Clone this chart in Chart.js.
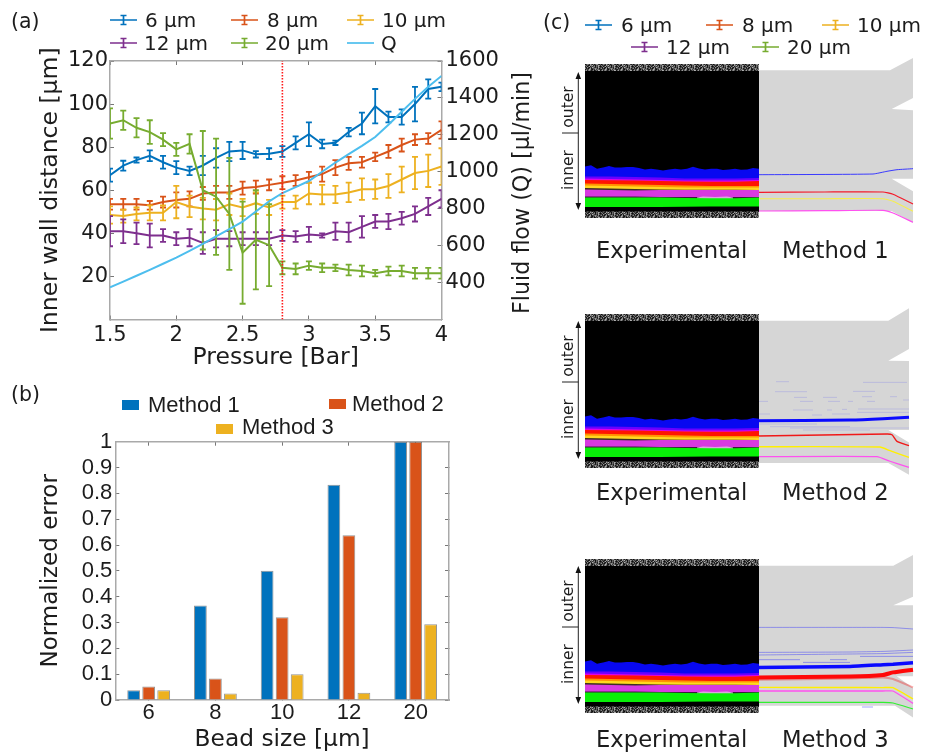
<!DOCTYPE html>
<html>
<head>
<meta charset="utf-8">
<script src="https://cdn.jsdelivr.net/npm/chart.js@4"></script>
<style>
html, body { margin: 0; padding: 0; background: #fff; }
#page { position: relative; width: 934px; height: 754px; overflow: hidden; filter: blur(0.4px); }
canvas { position: absolute; }
.lbl { position: absolute; white-space: nowrap; transform: translateY(-50%); color: #1c1c1c; font-family: "DejaVu Sans", sans-serif; }
.rot { transform: translate(-50%, -50%) rotate(-90deg); }
svg { position: absolute; overflow: visible; }
</style>
</head>
<body>
<div id="page">
  <canvas id="chartA" style="left:0;top:0"></canvas>
  <canvas id="chartB" style="left:0;top:375px"></canvas>
  <canvas id="inset1" style="left:585px;top:52px"></canvas>
  <canvas id="inset2" style="left:585px;top:302px"></canvas>
  <canvas id="inset3" style="left:585px;top:547px"></canvas>
</div>
<script>
// (a) wall distance vs pressure
const pressure = [1.5,1.6,1.7,1.8,1.9,2,2.1,2.2,2.3,2.4,2.5,2.6,2.7,2.8,2.9,3,3.1,3.2,3.3,3.4,3.5,3.6,3.7,3.8,3.9,4];
const bead6 = [67,71.4,74,76,73,70.5,69,71.5,75,78,78.5,76.7,77,78,82,86,81.5,82,87,91,99,94,94,100,107,108];
const bead6Err = [3,2.3,1.2,2.5,3,3,2,4.5,4.5,4.5,4,1.5,2.5,2.5,3,5.5,2,1,2,5,8,2.5,3.5,8,4.5,2];
const bead8 = [53.5,53.5,53.5,53,54.5,55.5,56,58.5,59,59,61,61.5,62.5,63.5,64.5,66,67.5,70.5,72.5,73,75.5,78,81,83.5,84,88];
const bead8Err = [2.5,2.5,2.5,2,2.5,3.5,3.5,3,3,3,3,3,2.5,3,2.5,2.5,3.5,3.5,3,2.5,2,3,3,2.5,2.5,4];
const bead10 = [48.5,48,49,49.5,49.5,54.5,52.5,51.5,51,53.5,52,54,52,54.5,54.5,58.5,58,58,59,60.5,60.5,62,65,68,69,71];
const bead10Err = [4,3,3,3.5,3.5,7.5,5,5,5,5,4,5,3.5,3,3,5,4.5,4,4.5,5,4.5,5.5,6,7.5,7.5,8.5];
const bead12 = [41,41,40,39,39,37.5,38,35.5,37.5,37.5,37.5,37.5,37.5,39,38.5,39.5,39,41,40.5,43,45.5,45.5,47,49,52.5,56];
const bead12Err = [7,5.5,5,5.5,3,3,4,5,4,3.5,3,3,3,2.5,2.5,3.5,1,4,4.5,5,3,3.5,3,3.5,4,4];
const bead20 = [91,92.5,89,87,83.5,79,81.5,60,57,49,31,37,34.5,24,23.5,25,24,24,23,22.5,21.5,22.5,22.5,21.5,21.5,21.5];
const bead20Err = [7,4.5,4.5,5.5,3,3,4.5,27.5,27,26,23.7,23,19,3,2.5,2,2,1.5,2.5,2.5,1.5,2,2.5,2.5,2.5,2.5];
const flowQ = [374,405,437,469,502,535,572,610,650,690,730,785,840,885,917,950,1000,1050,1096,1140,1188,1255,1325,1395,1461,1519];
const criticalPressure = 2.8;

// (b) normalized error
const beadSizes = ['6','8','10','12','20'];
const method1Error = [0.038,0.366,0.5,0.833,1];
const method2Error = [0.052,0.083,0.32,0.638,1];
const method3Error = [0.038,0.025,0.1,0.028,0.293];

// (c) experimental band edges, measured up from the lower edge of the image
const expWidth = 174, expHeight = 154;
const blueEdgeX = [0,6,12,18,24,30,36,42,48,54,60,66,72,78,84,90,96,102,108,114,120,126,132,138,144,150,156,162,168,174];
const blueEdge = [51.6,52.8,49.3,50.6,52,50.6,50.6,51,51,50,48.6,49.3,48.6,47.6,48.6,49.3,48.6,49.3,51.3,49.6,48.6,49.3,49.3,48,48.6,49.3,48.3,48.6,50,49.3];
const bandX = [0,25,50,75,100,125,150,174];
const violetEdge = [41.5,41.5,41,40.5,39.5,39.5,39.5,40];
const magentaEdge = [39.5,39,38.5,38,37.5,37.5,37.5,38];
const redEdge = [38,37.8,37.4,37,36.5,36.3,36.3,37];
const orangeEdge = [34.5,34,33.5,33,32.5,32,32,32];
const yellowEdge = [32.5,32,31.5,31,30.5,30.5,30.5,30.5];
const darkEdge = [30,29.5,29,28.5,28.3,28.2,28.2,28];
const purpleEdge = [28.5,28,27.5,28,28,28,28,28];
const gapEdge = [21.6,21.5,21.5,21,21,21,21,21];
const paleX = [112,118,130,142,148];
const paleEdge = [20.5,21.5,21,21.5,20.5];
const greenEdge = [20.5,20.5,20.5,20.5,20,19.7,19.7,20.5];
const blackEdge = [11,11,11,11,11.3,11.5,11.5,11.6];
const noiseEdge = [6.6,6.6,6.6,6.6,6.6,6.6,6.6,6.6];

// channel outlines of the three simulations
const channel1X = [174,305,328,328,306.7,328,328,306.7,328,328,306.7,174];
const channel1Y = [147.7,147.7,160,120,109,107.7,39.3,39.3,26.7,-5,7,7];
const channel2X = [174,303.3,324,324,303.3,324,324,303.3,324,324,303.3,174];
const channel2Y = [147.3,147.3,159.7,119,107.3,107,38,38,25.6,-6.7,5,5];
const channel3X = [174,308.3,328,328,308.3,328,328,311.7,328,328,310,174];
const channel3Y = [147.3,147.3,158,116.3,107.7,107.7,36.7,36.7,25,-4.4,7.3,7.3];

// simulated streak lines, Method 1
const m1BlueX = [174,288,302,312,328];
const m1Blue = [43.3,44,46.7,48.3,49.3];
const m1TailX = [174,240,298,308,328];
const m1Red = [25.7,26,26,23.7,14];
const m1Yellow = [19.3,19.3,19.3,16.7,6.7];
const m1Magenta = [7,7.3,7.7,5,-4.3];

// Method 2
const m2BlueX = [173,265,298,324];
const m2Blue = [47.3,47.9,49.2,50.8];
const m2RedX = [173,302,307,312,324];
const m2Red = [32,34,33.3,26.6,22.3];
const m2YellowX = [173,295,305,324];
const m2Yellow = [21.3,21,17.3,10.6];
const m2MagentaX = [173,292,305,324];
const m2Magenta = [11.3,11.3,6.7,0.6];
const m2FaintStart = [191,278,190,268,209,238,277,305,173,215,243,263,282,318,208,242,257,273,173,227,247,272,173,185,205,218];
const m2FaintEnd = [204,322,222,290,222,252,287,312,183,228,255,268,290,324,228,247,262,324,185,237,265,324,232,265,324,285];
const m2FaintY = [86.3,85.6,76.3,76.6,70.6,70.6,71.3,71.3,66.6,66.6,66.6,66.6,66.6,68,58,58,58.6,59,54,53,54,55.6,44,41.3,40,38];

// Method 3
const m3LineX = [173,265,298,308,328];
const m3BlueA = [85.6,85.6,85.6,85.4,84];
const m3BlueB = [60.6,61,61.6,62,63];
const m3BlueC = [58,59,59.4,59.8,60.6];
const m3BlueThick = [45.6,46.6,48.3,48.8,50.3];
const m3Red = [35.6,36.5,38,40.6,43.3];
const m3RedFaint = [33.3,34.5,35.6,34,25.6];
const m3Yellow = [25.6,25.5,25.4,25.3,14];
const m3Magenta = [22,22,22,22,9.6];
const m3Green = [10.6,10.6,10.6,10,4];
const m3FaintStart = [173,245,275,218,277];
const m3FaintEnd = [215,262,328,265,288];
const m3FaintY = [53.3,53.3,56.6,50.6,6];

const matlabBlue = '#0072BD', matlabRed = '#D95319', matlabYellow = '#EDB120', matlabPurple = '#7E2F8E', matlabGreen = '#77AC30', matlabCyan = '#4DBEEE';
const axisGray = '#a9a9a9', textColor = '#1c1c1c';

Chart.defaults.animation = false;
Chart.defaults.responsive = false;
Chart.defaults.color = textColor;

const dejavu = (size) => ({ family: '"DejaVu Sans"', size: size });
const liberation = (size) => ({ family: '"Liberation Sans"', size: size });
const fixW = (w) => (s) => { s.width = w; };
const fixH = (h) => (s) => { s.height = h; };
const pts = (xs, ys) => xs.map((x, i) => ({ x: x, y: ys[i] }));

function size(id, w, h) {
  const c = document.getElementById(id);
  c.width = w; c.height = h;
  c.style.width = w + 'px'; c.style.height = h + 'px';
  return c;
}

// error bars are drawn right after their own line so the stacking stays right
const errorBars = {
  id: 'errorBars',
  afterDatasetDraw(chart, args) {
    const ds = chart.data.datasets[args.index];
    if (!ds.err) return;
    const { ctx, chartArea: a, scales } = chart;
    const xs = scales.x, ys = scales.y;
    ctx.save();
    ctx.beginPath();
    ctx.rect(a.left, a.top, a.right - a.left, a.bottom - a.top);
    ctx.clip();
    ctx.strokeStyle = ds.borderColor;
    ctx.lineWidth = 1.8;
    ds.data.forEach((p, i) => {
      const px = xs.getPixelForValue(p.x);
      const hi = ys.getPixelForValue(p.y + ds.err[i]);
      const lo = ys.getPixelForValue(p.y - ds.err[i]);
      ctx.beginPath();
      ctx.moveTo(px, hi); ctx.lineTo(px, lo);
      ctx.moveTo(px - 3, hi); ctx.lineTo(px + 3, hi);
      ctx.moveTo(px - 3, lo); ctx.lineTo(px + 3, lo);
      ctx.stroke();
    });
    ctx.restore();
  }
};

function beadSeries(label, values, err, color, order) {
  return { label: label, data: pts(pressure, values), err: err, borderColor: color, borderWidth: 2, pointRadius: 0, tension: 0, yAxisID: 'y', order: order };
}

new Chart(size('chartA', 505, 372), {
  type: 'line',
  data: {
    datasets: [
      { label: 'critical', data: pts([criticalPressure, criticalPressure], [0, 120]), borderColor: '#ff1a1a', borderWidth: 1.6, borderDash: [1.5, 1.5], pointRadius: 0, yAxisID: 'y', order: 0 },
      { label: 'Q', data: pts(pressure, flowQ), borderColor: matlabCyan, borderWidth: 2, pointRadius: 0, yAxisID: 'yFlow', order: 1 },
      beadSeries('20 µm', bead20, bead20Err, matlabGreen, 2),
      beadSeries('12 µm', bead12, bead12Err, matlabPurple, 3),
      beadSeries('10 µm', bead10, bead10Err, matlabYellow, 4),
      beadSeries('8 µm', bead8, bead8Err, matlabRed, 5),
      beadSeries('6 µm', bead6, bead6Err, matlabBlue, 6)
    ]
  },
  plugins: [errorBars],
  options: {
    layout: { padding: { top: 61 } },
    plugins: { legend: { display: false }, tooltip: { enabled: false } },
    scales: {
      x: {
        type: 'linear', min: 1.5, max: 4, position: 'bottom', afterFit: fixH(52.5),
        border: { color: axisGray, width: 1.5 },
        grid: { drawOnChartArea: false, tickLength: -4, color: '#777' },
        ticks: { stepSize: 0.5, font: dejavu(21), padding: 7, maxRotation: 0, color: textColor, callback: (v) => String(v) },
        title: { display: true, text: 'Pressure [Bar]', font: dejavu(23.5), color: textColor, padding: { top: 0, bottom: 0 } }
      },
      xTop: {
        type: 'linear', min: 1.5, max: 4, position: 'top', afterFit: fixH(0),
        border: { color: axisGray, width: 1.5 },
        grid: { drawOnChartArea: false, tickLength: -4, color: '#777' },
        ticks: { stepSize: 0.5, display: false }
      },
      y: {
        min: 0, max: 120, position: 'left', afterFit: fixW(110),
        border: { color: axisGray, width: 1.5 },
        grid: { drawOnChartArea: false, tickLength: -4, color: '#777' },
        ticks: { stepSize: 20, font: dejavu(21), padding: 6, color: textColor, callback: (v) => (v === 0 ? '' : v) },
        title: { display: true, text: 'Inner wall distance [µm]', font: dejavu(23.5), color: textColor, padding: { top: 37, bottom: 0 } }
      },
      yFlow: {
        min: 200, max: 1600, position: 'right', afterFit: fixW(63.5),
        border: { color: axisGray, width: 1.5 },
        grid: { drawOnChartArea: false, tickLength: -4, color: '#777' },
        ticks: { stepSize: 200, font: dejavu(21), padding: 8, color: textColor, callback: (v) => (v === 200 ? '' : v) }
      }
    }
  }
});

new Chart(size('chartB', 470, 379), {
  type: 'bar',
  data: {
    labels: beadSizes,
    datasets: [
      { label: 'Method 1', data: method1Error, backgroundColor: matlabBlue },
      { label: 'Method 2', data: method2Error, backgroundColor: matlabRed },
      { label: 'Method 3', data: method3Error, backgroundColor: matlabYellow }
    ]
  },
  options: {
    layout: { padding: { top: 66.7, right: 21 } },
    datasets: { bar: { categoryPercentage: 0.675, barPercentage: 0.85, borderColor: 'rgba(60,60,60,0.55)', borderWidth: 1 } },
    plugins: { legend: { display: false }, tooltip: { enabled: false } },
    scales: {
      x: {
        position: 'bottom', afterFit: fixH(54), offset: true,
        border: { color: axisGray, width: 1.5 },
        grid: { offset: false, drawOnChartArea: false, tickLength: -4, color: '#777' },
        ticks: { font: liberation(22), padding: 4, color: textColor, maxRotation: 0 },
        title: { display: true, text: 'Bead size [µm]', font: dejavu(23.3), color: textColor, padding: { top: 0, bottom: 0 } }
      },
      xTop: {
        type: 'category', labels: beadSizes, position: 'top', afterFit: fixH(0), offset: true,
        border: { color: axisGray, width: 1.5 },
        grid: { offset: false, drawOnChartArea: false, tickLength: -4, color: '#777' },
        ticks: { display: false }
      },
      y: {
        min: 0, max: 1, position: 'left', afterFit: fixW(115.3),
        border: { color: axisGray, width: 1.5 },
        grid: { drawOnChartArea: false, tickLength: -4, color: '#777' },
        ticks: { stepSize: 0.1, autoSkip: false, font: liberation(22), padding: 7, color: textColor, callback: (v) => String(Number(v.toFixed(1))) },
        title: { display: true, text: 'Normalized error', font: dejavu(23), color: textColor, padding: { top: 37, bottom: 0 } }
      },
      yRight: {
        min: 0, max: 1, position: 'right', afterFit: fixW(0),
        border: { color: axisGray, width: 1.5 },
        grid: { drawOnChartArea: false, tickLength: -4, color: '#777' },
        ticks: { stepSize: 0.1, autoSkip: false, display: false }
      }
    }
  }
});

// grey speckle of the image rim, fixed tile
const speckleRows = [
  '3a16e2847b195d30', '61c4093fa5272e84', 'b2507d1468c93a16', '1846fb2073d5a942',
  '7d29c615a0384fe1', '05b83e72916cd427', 'a4612d9f37085eb3'
];
function specklePattern() {
  const tile = document.createElement('canvas');
  tile.width = 16; tile.height = speckleRows.length;
  const t = tile.getContext('2d');
  speckleRows.forEach((row, j) => {
    [...row].forEach((ch, i) => {
      const g = parseInt(ch, 16) * 11 + 12;
      t.fillStyle = `rgb(${g},${g},${g})`;
      t.fillRect(i, j, 1, 1);
    });
  });
  return t.createPattern(tile, 'repeat');
}

const line = (xs, ys, color, width) => ({ data: pts(xs, ys), borderColor: color, borderWidth: width, pointRadius: 0, tension: 0.15, xAxisID: 'x', yAxisID: 'y' });
const area = (xs, ys, color) => ({ data: pts(xs, ys), borderWidth: 0, borderColor: 'transparent', backgroundColor: color, fill: { value: 0 }, pointRadius: 0 });

function dashes(starts, ends, ys, color, width) {
  const data = [];
  starts.forEach((s, i) => {
    data.push({ x: s, y: ys[i] }, { x: ends[i], y: ys[i] }, { x: ends[i], y: NaN });
  });
  return { data: data, borderColor: color, borderWidth: width, pointRadius: 0, spanGaps: false };
}

function experimentLayers(pattern) {
  const flat = (v) => [v, v];
  const ends = [0, expWidth];
  return [
    area(ends, flat(expHeight), pattern),
    area(ends, flat(expHeight - 7), '#000'),
    area(blueEdgeX, blueEdge, '#0808f0'),
    area(bandX, violetEdge, '#6a00ff'),
    area(bandX, magentaEdge, '#e000e8'),
    area(bandX, redEdge, '#ff1500'),
    area(bandX, orangeEdge, '#ff9400'),
    area(bandX, yellowEdge, '#ffd820'),
    area(bandX, darkEdge, '#3d2f22'),
    area(bandX, purpleEdge, '#d83ae0'),
    area(bandX, gapEdge, '#3a1a3a'),
    area(paleX, paleEdge, '#d9a8dc'),
    area(bandX, greenEdge, '#08f008'),
    area(bandX, blackEdge, '#000'),
    area(bandX, noiseEdge, pattern)
  ];
}

function makeInset(id, channelX, channelY, marks) {
  const pattern = specklePattern();
  const layers = [
    { data: pts(channelX, channelY), backgroundColor: '#d6d6d6', borderWidth: 0, borderColor: 'transparent', fill: 'shape', pointRadius: 0 },
    ...marks,
    ...experimentLayers(pattern)
  ];
  const datasets = layers.map((d, i) => ({ ...d, order: layers.length - i }));
  new Chart(size(id, 330, 176), {
    type: 'line',
    data: { datasets: datasets },
    options: {
      layout: { padding: 0 },
      plugins: { legend: { display: false }, tooltip: { enabled: false } },
      scales: {
        x: { type: 'linear', min: 0, max: 330, display: false },
        y: { min: -10, max: 166, display: false }
      }
    }
  });
}

const faintBlue = 'rgba(40,40,255,0.42)';

makeInset('inset1', channel1X, channel1Y, [
  line(m1BlueX, m1Blue, '#3a3aff', 1),
  line(m1TailX, m1Red, '#f41a2a', 1.2),
  line(m1TailX, m1Yellow, '#f5ee50', 1.1),
  line(m1TailX, m1Magenta, '#ff50f0', 1.2)
]);

makeInset('inset2', channel2X, channel2Y, [
  dashes(m2FaintStart, m2FaintEnd, m2FaintY, 'rgba(50,50,255,0.16)', 1),
  line(m2BlueX, m2Blue, '#0a0aff', 3),
  line(m2RedX, m2Red, '#f01818', 1.4),
  line(m2YellowX, m2Yellow, '#fff000', 1.4),
  line(m2MagentaX, m2Magenta, '#ff50f0', 1.2)
]);

makeInset('inset3', channel3X, channel3Y, [
  dashes(m3FaintStart, m3FaintEnd, m3FaintY, faintBlue, 1),
  line(m3LineX, m3BlueA, faintBlue, 1),
  line(m3LineX, m3BlueB, faintBlue, 1),
  line(m3LineX, m3BlueC, faintBlue, 1),
  line(m3LineX, m3RedFaint, 'rgba(240,40,40,0.4)', 2),
  line(m3LineX, m3BlueThick, '#0a0aff', 3.5),
  line(m3LineX, m3Red, '#ff0808', 4),
  line(m3LineX, m3Yellow, '#fff000', 1.4),
  line(m3LineX, m3Magenta, '#ff50f0', 1.3),
  line(m3LineX, m3Green, '#30f030', 1.1)
]);

// text and legend glyphs outside the plot boxes
const page = document.getElementById('page');

function label(text, x, y, px, extra) {
  const d = document.createElement('div');
  d.className = 'lbl';
  d.textContent = text;
  d.style.left = x + 'px';
  d.style.top = y + 'px';
  d.style.fontSize = px + 'px';
  if (extra) Object.assign(d.style, extra);
  page.appendChild(d);
}

function rotated(text, x, y, px) {
  label(text, x, y, px);
  page.lastChild.classList.add('rot');
}

function glyph(x, y, color, hasBar) {
  const ns = 'http://www.w3.org/2000/svg';
  const s = document.createElementNS(ns, 'svg');
  s.setAttribute('width', 27); s.setAttribute('height', 10);
  s.style.left = x + 'px'; s.style.top = (y - 5) + 'px';
  const path = document.createElementNS(ns, 'path');
  path.setAttribute('d', hasBar ? 'M0 5H27M13.5 0.5V9.5M10.5 0.5H16.5M10.5 9.5H16.5' : 'M0 5H27');
  path.setAttribute('stroke', color);
  path.setAttribute('stroke-width', 1.7);
  path.setAttribute('fill', 'none');
  s.appendChild(path);
  page.appendChild(s);
}

function legendEntry(text, gx, tx, y, color, hasBar) {
  glyph(gx, y, color, hasBar);
  label(text, tx, y, 20);
}

label('(a)', 11, 21, 20.5);
label('(b)', 11, 394, 20.5);
label('(c)', 543, 22, 20.5);

legendEntry('6 µm', 110, 145, 20, matlabBlue, true);
legendEntry('8 µm', 231, 267, 20, matlabRed, true);
legendEntry('10 µm', 347, 382, 20, matlabYellow, true);
legendEntry('12 µm', 110, 144, 43, matlabPurple, true);
legendEntry('20 µm', 231, 265, 43, matlabGreen, true);
legendEntry('Q', 347, 381, 43, matlabCyan, false);
rotated('Fluid flow (Q) [µl/min]', 521, 193, 22.2);

const swatches = [[122, 405, matlabBlue], [329, 404, matlabRed], [216, 429, matlabYellow]];
swatches.forEach(([x, y, c]) => {
  const d = document.createElement('div');
  d.style.cssText = `position:absolute;left:${x}px;top:${y - 5}px;width:17px;height:10px;background:${c}`;
  page.appendChild(d);
});
const libSans = { fontFamily: '"Liberation Sans"' };
label('Method 1', 148, 405, 22, libSans);
label('Method 2', 352, 404, 22, libSans);
label('Method 3', 242, 427, 22, libSans);

legendEntry('6 µm', 585, 621, 25, matlabBlue, true);
legendEntry('8 µm', 706, 742, 25, matlabRed, true);
legendEntry('10 µm', 822, 857, 25, matlabYellow, true);
legendEntry('12 µm', 631, 666, 47, matlabPurple, true);
legendEntry('20 µm', 752, 787, 47, matlabGreen, true);

// channel captions and the inner/outer arrow next to each image
[['Method 1', 250, 64], ['Method 2', 492, 313.3], ['Method 3', 739, 558.3]].forEach(([name, capY, top]) => {
  label('Experimental', 596, capY, 22.7);
  label(name, 782, capY, 22.7);
  rotated('outer', 568, top + 43, 15.5);
  rotated('inner', 568, top + 106, 15.5);
  const ns = 'http://www.w3.org/2000/svg';
  const s = document.createElementNS(ns, 'svg');
  s.setAttribute('width', 30); s.setAttribute('height', 160);
  s.style.left = '560px'; s.style.top = top + 'px';
  const p = document.createElementNS(ns, 'path');
  p.setAttribute('d', 'M18.3 12V142M2 69H18.3');
  p.setAttribute('stroke', '#222'); p.setAttribute('stroke-width', 1);
  s.appendChild(p);
  const h = document.createElementNS(ns, 'path');
  h.setAttribute('d', 'M18.3 8L15.5 15H21.1ZM18.3 146L15.5 139H21.1Z');
  h.setAttribute('fill', '#111');
  s.appendChild(h);
  page.appendChild(s);
});
</script>
</body>
</html>
